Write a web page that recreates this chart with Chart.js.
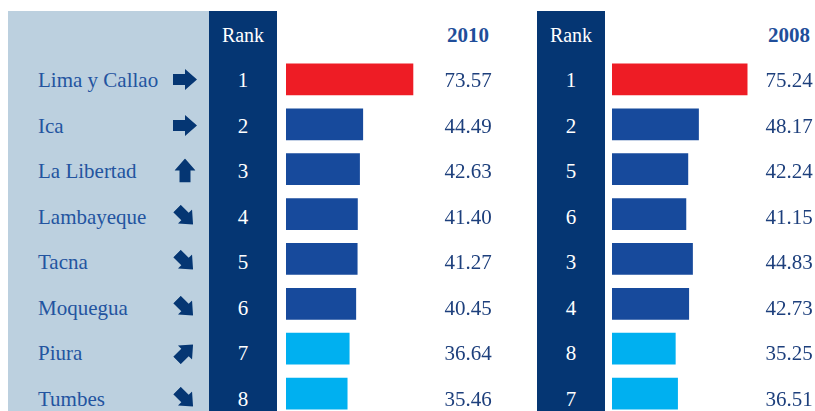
<!DOCTYPE html>
<html>
<head>
<meta charset="utf-8">
<script src="https://cdn.jsdelivr.net/npm/chart.js@4"></script>
<style>
  body { margin: 0; width: 815px; height: 411px; overflow: hidden; position: relative; background: #fff;
         font-family: "Liberation Serif", "DejaVu Serif", "Times New Roman", Times, serif; }
  .panel { position: absolute; top: 11px; height: 400px; }
  .names { left: 8px; width: 201px; background: #bcd0df; }
  .rankcol { width: 68px; background: #053673; }
  .txt { position: absolute; line-height: 1; white-space: nowrap; transform: translateY(-50%); }
  .name { left: 38px; font-size: 21px; color: #2354a0; }
  .rank { width: 68px; text-align: center; font-size: 21px; color: #fff; }
  .head { font-size: 20px; }
  .year { font-size: 21px; font-weight: bold; color: #1f4e9a; text-align: center; width: 80px; }
  .value { font-size: 21px; color: #1d3f7c; text-align: center; width: 80px; }
  .arrow { position: absolute; width: 24px; height: 21px; margin: -10.5px 0 0 -12px; }
  .chartbox { position: absolute; top: 57px; height: 359px; }
</style>
</head>
<body>
<div class="panel names"></div>
<div class="panel rankcol" style="left:209px"></div>
<div class="panel rankcol" style="left:537px"></div>
<div class="chartbox" style="left:286px; width:214px"><canvas id="chart2010"></canvas></div>
<div class="chartbox" style="left:612px; width:203px"><canvas id="chart2008"></canvas></div>
<div id="labels"></div>

<script>
// Regions and their index values
const regions = ['Lima y Callao', 'Ica', 'La Libertad', 'Lambayeque', 'Tacna', 'Moquegua', 'Piura', 'Tumbes'];
const rank2010 = [1, 2, 3, 4, 5, 6, 7, 8];
const values2010 = [73.57, 44.49, 42.63, 41.40, 41.27, 40.45, 36.64, 35.46];
const rank2008 = [1, 2, 5, 6, 3, 4, 8, 7];
const values2008 = [75.24, 48.17, 42.24, 41.15, 44.83, 42.73, 35.25, 36.51];
const trend = ['right', 'right', 'up', 'downRight', 'downRight', 'downRight', 'upRight', 'downRight'];

// text rows run on a slightly wider pitch than the bars
const rowTop = 80;
const rowStep = 45.5;

// bar colours: top region red, last two light blue
const barColor = (i) => (i === 0 ? '#ee1c25' : i >= 6 ? '#00b0f0' : '#174a9c');

const labels = document.getElementById('labels');
function addText(cls, text, left, top) {
  const el = document.createElement('div');
  el.className = 'txt ' + cls;
  el.textContent = text;
  el.style.left = left + 'px';
  el.style.top = top + 'px';
  labels.appendChild(el);
}

const rotation = { right: 'rotate(0deg)', up: 'rotate(-90deg)', downRight: 'rotate(45deg) scale(0.95)', upRight: 'rotate(-45deg) scale(0.95)' };

addText('rank head', 'Rank', 209, 35);
addText('rank head', 'Rank', 537, 35);
addText('year', '2010', 428, 35);
addText('year', '2008', 749, 35);

regions.forEach((name, i) => {
  const y = rowTop + i * rowStep;
  addText('name', name, 38, y);
  addText('rank', rank2010[i], 209, y);
  addText('rank', rank2008[i], 537, y);
  addText('value', values2010[i].toFixed(2), 428, y);
  addText('value', values2008[i].toFixed(2), 749, y);
  const svg = document.createElementNS('http://www.w3.org/2000/svg', 'svg');
  svg.setAttribute('class', 'arrow');
  svg.setAttribute('viewBox', '0 0 24 21');
  svg.style.left = '185px';
  svg.style.top = (y - 0.5) + 'px';
  svg.style.transform = rotation[trend[i]];
  svg.innerHTML = '<polygon points="0,5 12,5 12,0 24,10.5 12,21 12,16 0,16" fill="#053673"/>';
  labels.appendChild(svg);
});

function makeChart(id, values, max) {
  new Chart(document.getElementById(id), {
    type: 'bar',
    data: {
      labels: regions,
      datasets: [{
        data: values,
        backgroundColor: values.map((v, i) => barColor(i)),
        barThickness: 31,
      }],
    },
    options: {
      indexAxis: 'y',
      responsive: true,
      maintainAspectRatio: false,
      animation: false,
      layout: { padding: 0 },
      scales: {
        x: { display: false, min: 0, max: max },
        y: { display: false },
      },
      plugins: {
        legend: { display: false },
        tooltip: { enabled: false },
      },
    },
  });
}

makeChart('chart2010', values2010, 124);
makeChart('chart2008', values2008, 113);
</script>
</body>
</html>
